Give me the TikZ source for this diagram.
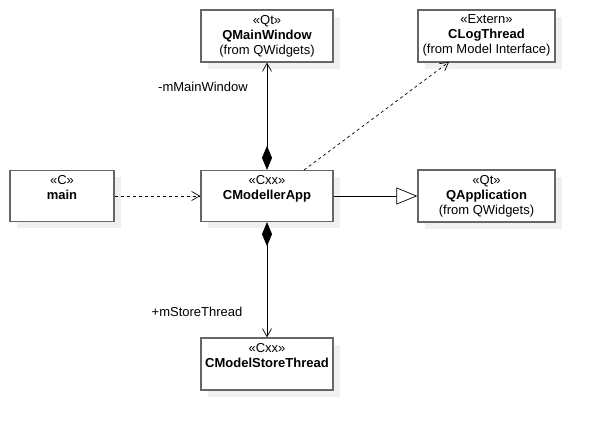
\documentclass[tikz,border=0pt]{standalone}
\usepackage{fontspec}
\setmainfont{Liberation Sans}
\usetikzlibrary{arrows.meta}
\definecolor{boxline}{HTML}{666666}
\definecolor{shadowc}{HTML}{F0F0F0}
\begin{document}
\begin{tikzpicture}[x=1pt,y=-1pt,
  umlbox/.style={draw=boxline,line width=1.3pt,fill=white,minimum width=#1,
    inner sep=0pt},
  conn/.style={draw=black,line width=0.7pt},
  openarr/.style={-{Straight Barb[length=8pt,width=9pt,line width=0.7pt]}},
  lbl/.style={font=\fontsize{13}{15}\selectfont,inner sep=0pt}]
\useasboundingbox (0,0) rectangle (594,430);
% shadows
\fill[shadowc] (208,17) rectangle (340,69);
\fill[shadowc] (425,17) rectangle (562,69);
\fill[shadowc] (17,177) rectangle (121,228);
\fill[shadowc] (208,177) rectangle (340,228);
\fill[shadowc] (425,177) rectangle (562,229);
\fill[shadowc] (208,345) rectangle (340,397);
% boxes
\node[umlbox=132pt,minimum height=52pt] (qmw) at (267,36) {};
\node[umlbox=137pt,minimum height=52pt] (clt) at (486.5,36) {};
\node[umlbox=104pt,minimum height=51pt] (main) at (62,196) {};
\node[umlbox=132pt,minimum height=51pt] (app) at (267,196) {};
\node[umlbox=137pt,minimum height=52pt] (qapp) at (486.5,196) {};
\node[umlbox=132pt,minimum height=52pt] (cst) at (267,364) {};
% texts
\node[lbl,align=center,anchor=north] (qmwtx) at ([yshift=-5.5pt]qmw.north) {«Qt»\\\textbf{QMainWindow}\\(from QWidgets)};
\node[lbl,align=center,anchor=north] (cltx) at ([yshift=-5.5pt]clt.north) {«Extern»\\\textbf{CLogThread}\\(from Model Interface)};
\node[lbl,align=center,anchor=north] (maintx) at ([yshift=-5.5pt]main.north) {«C»\\\textbf{main}};
\node[lbl,align=center,anchor=north] (apptx) at ([yshift=-5.5pt]app.north) {«Cxx»\\\textbf{CModellerApp}};
\node[lbl,align=center,anchor=north] (qapptx) at ([yshift=-5.5pt]qapp.north) {«Qt»\\\textbf{QApplication}\\(from QWidgets)};
\node[lbl,align=center,anchor=north] (csttx) at ([yshift=-5.5pt]cst.north) {«Cxx»\\\textbf{CModelStoreThread}};
% connectors
\draw[conn,{Diamond[length=24pt,width=10pt,fill=black]}-{Straight Barb[length=8pt,width=9pt,line width=0.7pt]}] (app.north) -- (qmw.south);
\draw[conn,{Diamond[length=24pt,width=10pt,fill=black]}-{Straight Barb[length=8pt,width=9pt,line width=0.7pt]}] (app.south) -- (cst.north);
\draw[conn,openarr,dash pattern=on 3pt off 3pt] (main.east) -- (app.west);
\draw[conn,-{Triangle[open,length=21pt,width=17pt,fill=white,line width=0.7pt]}] (app.east) -- (qapp.west);
\coordinate (logstart) at (304,170);
\coordinate (logend) at (449,62);
\draw[conn,openarr,dash pattern=on 3pt off 3pt] (logstart) -- (logend);
\node[lbl] (lmw) at (203,86.5) {-mMainWindow};
\node[lbl] (lst) at (197,311.5) {+mStoreThread};
\end{tikzpicture}
\end{document}
